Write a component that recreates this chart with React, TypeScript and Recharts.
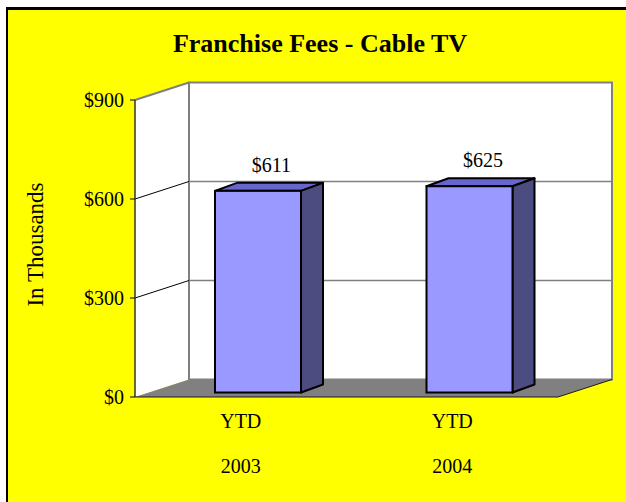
import { BarChart, Bar, XAxis, YAxis, CartesianGrid, ReferenceArea } from 'recharts';

const periods = ['YTD', 'YTD'];
const years = ['2003', '2004'];
const fees = [611, 625];
const yTicks = [0, 300, 600, 900];
const gridValues = [300, 600];

const chartData = periods.map((p, i) => ({ name: `${p}\n${years[i]}`, fees: fees[i] }));

const FONT = '"Liberation Serif", "Times New Roman", serif';
// depth of the 3D box and of each bar
const DX = 54;
const DY = -17.5;
const BAR_DX = 22;
const BAR_DY = -8;
const BAR_SHIFT_X = 17;
const BAR_SHIFT_Y = -4.5;

function Walls(props: any) {
  const { x, y, width, height } = props;
  const bottom = y + height;
  return (
    <g>
      <polygon
        points={`${x},${y} ${x + DX},${y + DY} ${x + DX},${bottom + DY} ${x},${bottom}`}
        fill="#ffffff"
      />
      <rect x={x + DX} y={y + DY} width={width} height={height} fill="#ffffff" stroke="#808080" strokeWidth={2} />
      <line x1={x} y1={y} x2={x + DX} y2={y + DY} stroke="#808080" strokeWidth={2} />
      <polygon
        points={`${x},${bottom} ${x + width},${bottom} ${x + width + DX},${bottom + DY} ${x + DX},${bottom + DY}`}
        fill="#808080"
      />
      <polyline
        points={`${x},${bottom} ${x + width},${bottom} ${x + width + DX},${bottom + DY}`}
        fill="none"
        stroke="#1a1a1a"
        strokeWidth={1}
      />
    </g>
  );
}

function GridLine(props: any) {
  const { x1, y1, x2 } = props;
  return (
    <g key={props.key}>
      <line x1={x1} y1={y1} x2={x1 + DX} y2={y1 + DY} stroke="#000" strokeWidth={1} />
      <line x1={x1 + DX} y1={y1 + DY} x2={x2 + DX} y2={y1 + DY} stroke="#808080" strokeWidth={1.5} />
    </g>
  );
}

function Bar3D(props: any) {
  const { x, y, width, height, payload } = props;
  const fx = x + BAR_SHIFT_X;
  const fy = y + BAR_SHIFT_Y;
  const w = width;
  const h = height;
  return (
    <g>
      <polygon
        points={`${fx},${fy} ${fx + BAR_DX},${fy + BAR_DY} ${fx + w + BAR_DX},${fy + BAR_DY} ${fx + w},${fy}`}
        fill="#6666CC"
        stroke="#000"
        strokeWidth={2}
        strokeLinejoin="round"
      />
      <polygon
        points={`${fx + w},${fy} ${fx + w + BAR_DX},${fy + BAR_DY} ${fx + w + BAR_DX},${fy + h + BAR_DY} ${fx + w},${fy + h}`}
        fill="#4C4C80"
        stroke="#000"
        strokeWidth={2}
        strokeLinejoin="round"
      />
      <rect x={fx} y={fy} width={w} height={h} fill="#9999FF" stroke="#000" strokeWidth={2} />
      <text x={fx + w / 2 + 13.5} y={fy - 19} textAnchor="middle" fontFamily={FONT} fontSize={20} fill="#000">
        {`$${payload.fees}`}
      </text>
    </g>
  );
}

function CategoryTick(props: any) {
  const { x, y, payload } = props;
  const [period, year] = String(payload.value).split('\n');
  return (
    <g>
      <text x={x} y={y + 31} textAnchor="middle" fontFamily={FONT} fontSize={20} fill="#000">
        {period}
      </text>
      <text x={x} y={y + 76} textAnchor="middle" fontFamily={FONT} fontSize={20} fill="#000">
        {year}
      </text>
    </g>
  );
}

function AxisTitle(props: any) {
  const vb = props.viewBox || { x: 0, y: 100, height: 297 };
  const tx = vb.x + 43;
  const ty = vb.y + vb.height / 2 - 4;
  return (
    <text
      x={tx}
      y={ty}
      transform={`rotate(-90, ${tx}, ${ty})`}
      textAnchor="middle"
      fontFamily={FONT}
      fontSize={23}
      fill="#000"
    >
      In Thousands
    </text>
  );
}

export default function App() {
  return (
    <div style={{ position: 'absolute', left: 0, top: 0, width: 626, height: 502, overflow: 'hidden', background: '#fff' }}>
      <div
        style={{
          position: 'absolute',
          left: 6,
          top: 7,
          width: 620,
          height: 495,
          boxSizing: 'border-box',
          borderLeft: '2px solid #000',
          borderTop: '3px solid #000',
          background: '#FFFF00',
        }}
      />
      <div
        style={{
          position: 'absolute',
          left: 20,
          top: 31,
          width: 600,
          textAlign: 'center',
          fontFamily: FONT,
          fontWeight: 'bold',
          fontSize: 26,
          lineHeight: '26px',
          color: '#000',
        }}
      >
        Franchise Fees - Cable TV
      </div>
      <div style={{ position: 'absolute', left: 0, top: 0 }}>
        <BarChart width={626} height={502} data={chartData} margin={{ top: 100, right: 68, bottom: 25, left: 0 }}>
          <ReferenceArea y1={0} y2={900} shape={Walls} ifOverflow="visible" zIndex={-200} />
          <CartesianGrid horizontal={GridLine} vertical={false} horizontalValues={gridValues} />
          <XAxis
            dataKey="name"
            height={80}
            axisLine={false}
            tickLine={false}
            tickSize={0}
            tickMargin={0}
            interval={0}
            tick={CategoryTick}
          />
          <YAxis
            width={135}
            domain={[0, 900]}
            ticks={yTicks}
            interval={0}
            tickFormatter={(v: number) => `$${v}`}
            tickSize={5}
            tickMargin={6}
            tick={{ fill: '#000', fontSize: 20, fontFamily: FONT }}
            axisLine={{ stroke: '#333', strokeWidth: 1.5 }}
            tickLine={{ stroke: '#000' }}
            label={{ content: AxisTitle }}
          />
          <Bar dataKey="fees" barSize={86} shape={Bar3D} isAnimationActive={false} />
        </BarChart>
      </div>
    </div>
  );
}
